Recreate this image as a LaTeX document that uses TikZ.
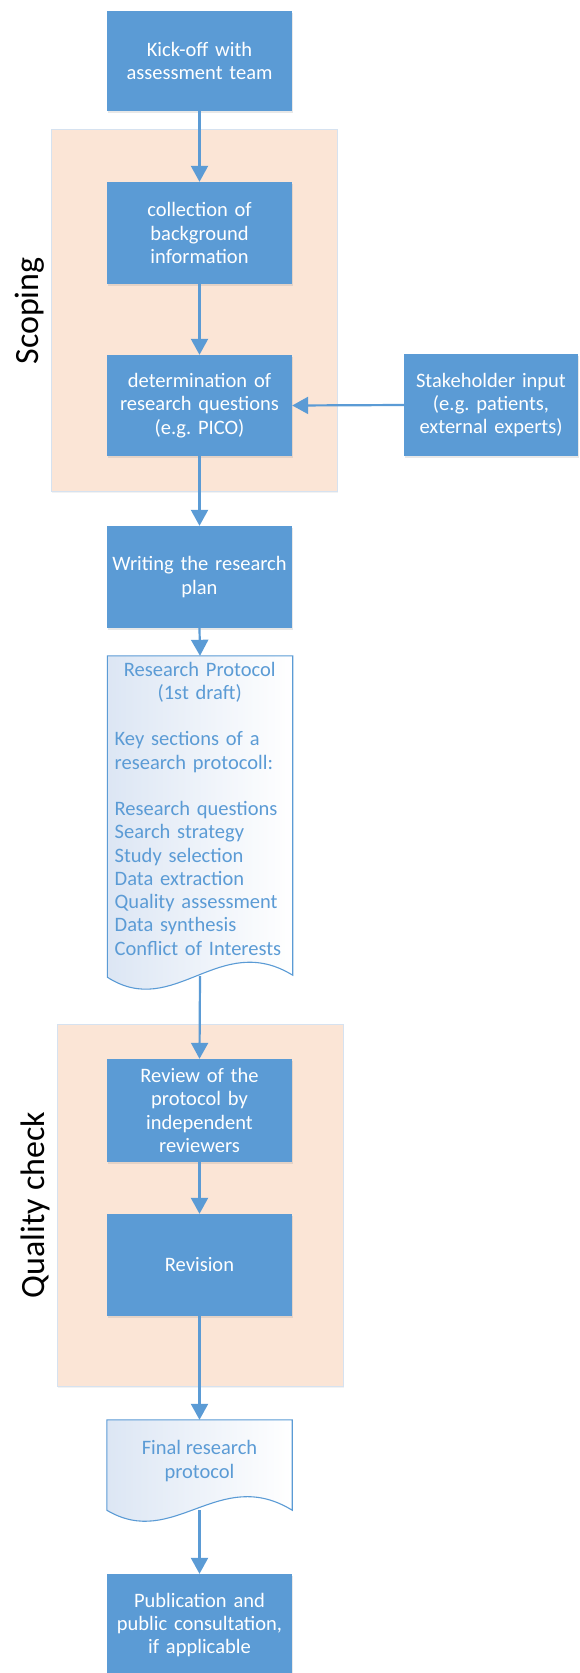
\documentclass[tikz,border=0pt]{standalone}
\usepackage{fontspec}
\setmainfont{Carlito}
\usetikzlibrary{arrows.meta,shadows,calc}
\definecolor{boxblue}{HTML}{5B9BD5}
\definecolor{peach}{HTML}{FBE5D6}
\definecolor{docshade}{HTML}{DCE6F4}
\definecolor{bgedge}{HTML}{D6E2F0}
\newcommand{\boxfont}{\fontsize{20.5}{23.25}\selectfont}
\newcommand{\lblfont}{\fontsize{34}{40}\selectfont}
\frenchspacing
\begin{document}
\begin{tikzpicture}[x=1pt,y=-1pt,
  proc/.style={rectangle, fill=boxblue, text=white, minimum width=185pt,
    minimum height=102pt, text width=178pt, align=center, inner sep=0pt,
    font=\boxfont, drop shadow={shadow xshift=1.2pt, shadow yshift=-1.8pt, opacity=0.18}},
  groupbg/.style={rectangle, fill=peach, draw=bgedge, line width=1pt,
    minimum width=286pt, minimum height=362pt, inner sep=0pt,
    drop shadow={shadow xshift=1pt, shadow yshift=-1.5pt, opacity=0.10}},
  grouplbl/.style={rotate=90, font=\lblfont, text=black, inner sep=0pt},
  docframe/.style={rectangle, inner sep=0pt, minimum width=185pt},
  docline/.style={draw=boxblue, line width=1.1pt, left color=docshade, right color=white},
  doctext/.style={text=boxblue, font=\boxfont, inner sep=0pt, align=left},
  conn/.style={draw=boxblue, line width=2.2pt, -{Triangle[length=16pt,width=17pt]}}
]
\useasboundingbox (0,0) rectangle (579,1673);

% group backgrounds
\node[groupbg] (scopebg) at (194,310) {};
\node[groupbg] (qualbg) at (200,1205) {};
\node[grouplbl] (scopelbl) at (30,311) {Scoping};
\node[grouplbl] (quallbl) at (35,1205) {Quality check};

% process boxes
\node[proc, minimum height=100pt] (kick) at (199.5,61) {Kick-off with\\assessment team};
\node[proc] (coll) at (199.5,233) {collection of\\background\\information};
\node[proc, minimum height=101pt] (det) at (199.5,405.5) {determination of\\research questions\\(e.g. PICO)};
\node[proc, minimum width=174pt, text width=170pt] (stake) at (491,405) {Stakeholder input\\(e.g. patients,\\external experts)};
\node[proc] (writ) at (199.5,577) {Writing the research\\plan};
\node[proc, minimum height=103pt] (rev) at (199.5,1110.5) {Review of the\\protocol by\\independent\\reviewers};
\node[proc] (revi) at (199.5,1265) {Revision};
\node[proc] (pub) at (199.5,1625) {Publication and\\public consultation,\\if applicable};

% documents
\node[docframe, minimum height=321pt] (doc1) at (200,816.5) {};
\path[docline] (doc1.north west) -- (doc1.north east) -- ([yshift=2pt]doc1.south east)
  .. controls ($(doc1.south west)+(112,-47)$) and ($(doc1.south west)+(67,43)$) .. (doc1.south west) -- cycle;
\node[doctext, anchor=base west, text width=176pt] (doc1t) at (114.5,676)
  {\makebox[170pt][c]{Research Protocol}\\
   \makebox[170pt][c]{(1st draft)}\\
   ~\\
   Key sections of a\\
   research protocoll:\\
   ~\\
   Research questions\\
   Search strategy\\
   Study selection\\
   Data extraction\\
   Quality assessment\\
   Data synthesis\\
   Conflict of Interests};

\node[docframe, minimum height=90pt] (doc2) at (199.5,1465) {};
\path[docline] (doc2.north west) -- (doc2.north east) -- (doc2.south east)
  .. controls ($(doc2.south west)+(112,-45)$) and ($(doc2.south west)+(67,40)$) .. (doc2.south west) -- cycle;
\node[doctext, align=center] (doc2t) at (199.5,1461) {Final research\\protocol};

% connectors
\draw[conn] (kick.south) -- (coll.north);
\draw[conn] (coll.south) -- (det.north);
\draw[conn] (stake.west) -- (det.east);
\draw[conn] (det.south) -- (writ.north);
\draw[conn] (writ.south) -- (doc1.north);
\draw[conn] ([yshift=1pt]doc1.south) -- (rev.north);
\draw[conn] (rev.south) -- (revi.north);
\draw[conn] (revi.south) -- (doc2.north);
\draw[conn] (doc2.south) -- (pub.north);
\end{tikzpicture}
\end{document}
